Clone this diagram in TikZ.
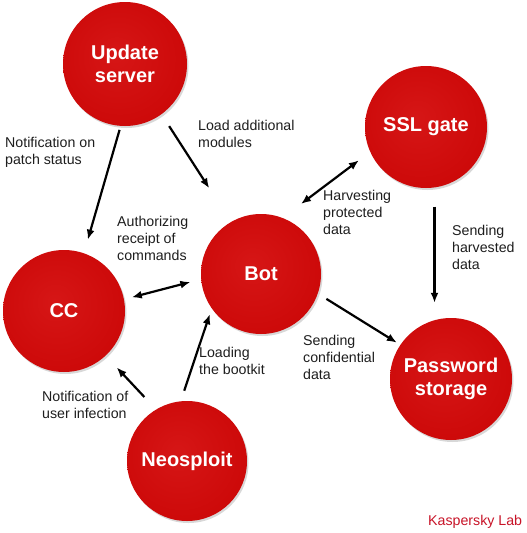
\documentclass[tikz,border=0pt]{standalone}
\usepackage{fontspec}
\setmainfont{Liberation Sans}
\usetikzlibrary{arrows.meta,shadows}
\definecolor{rmain}{RGB}{204,8,8}
\definecolor{rlight}{RGB}{214,22,22}
\definecolor{rdark}{RGB}{150,0,0}
\definecolor{txt}{RGB}{30,30,30}
\definecolor{klab}{RGB}{200,20,40}
\pgfdeclareradialshading{redball}{\pgfpoint{-4bp}{4bp}}{color(0bp)=(rlight); color(30bp)=(rmain); color(45bp)=(rmain); color(53bp)=(rdark)}
\tikzset{
  redcircle/.style={circle, minimum size=#1, inner sep=0pt, shading=redball, text=white,
    font=\bfseries\fontsize{20}{23}\selectfont, align=center,
    drop shadow={shadow xshift=1.5pt, shadow yshift=-2pt, opacity=0.3}},
  lbl/.style={anchor=base west, inner sep=0pt, align=left, text=txt, font=\fontsize{14.2}{17}\selectfont},
  arr/.style={line width=2.2pt, -{Latex[length=10pt,width=8pt]}},
  darr/.style={line width=2.2pt, {Latex[length=10pt,width=8pt]}-{Latex[length=10pt,width=8pt]}},
}
\begin{document}
\begin{tikzpicture}[x=1pt,y=-1pt]
\useasboundingbox[fill=white] (0,0) rectangle (527,533);
% circles
\node[redcircle=124pt] (us) at (125,64) {Update\\server};
\node[redcircle=122pt] (ssl) at (426,127) {SSL gate};
\node[redcircle=120pt] (bot) at (261,274) {Bot};
\node[redcircle=122pt] (cc) at (64,311) {CC};
\node[redcircle=122pt] (pw) at (451,379) {Password\\storage};
\node[redcircle=120pt] (neo) at (187,461) {Neosploit};
% connectors
\draw[arr, shorten <=4pt, shorten >=14pt] (us.266) -- (cc.71);
\draw[arr, shorten <=14pt, shorten >=40pt] (us.306) -- (bot.120);
\draw[darr, shorten <=14pt, shorten >=23pt] (ssl.204) -- (bot.69);
\draw[arr, shorten <=19pt, shorten >=15pt] (ssl.278) -- (ssl.278 |- pw.north);
\draw[arr, shorten <=10pt, shorten >=4pt] (bot.341) -- (pw.146);
\draw[darr, shorten <=8pt, shorten >=11pt] (cc.11) -- (bot.185);
\draw[arr, shorten <=17pt, shorten >=16pt] (neo.121) -- (cc.313);
\draw[arr, shorten <=11pt, shorten >=6pt] (neo.96) -- (bot.215);
% labels (anchor = baseline of last line)
\node[lbl] (l1) at (5,164) {Notification on\\patch status};
\node[lbl] (l2) at (198,147) {Load additional\\modules};
\node[lbl] (l3) at (117,260) {Authorizing\\receipt of\\commands};
\node[lbl] (l4) at (323,234) {Harvesting\\protected\\data};
\node[lbl] (l5) at (452,269) {Sending\\harvested\\data};
\node[lbl] (l6) at (303,379) {Sending\\confidential\\data};
\node[lbl] (l7) at (199,374) {Loading\\the bootkit};
\node[lbl] (l8) at (42,418) {Notification of\\user infection};
\node[lbl, text=klab] (kl) at (428,525) {Kaspersky Lab};
\end{tikzpicture}
\end{document}
